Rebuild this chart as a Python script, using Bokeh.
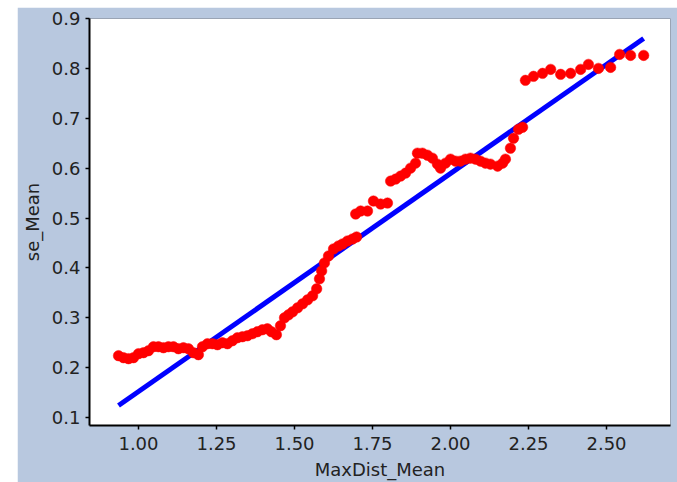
from bokeh.plotting import figure
from bokeh.models import FixedTicker, PrintfTickFormatter, Range1d
from bokeh.embed import file_html
from bokeh.resources import INLINE

# red observed points (MaxDist_Mean, se_Mean)
obs_x = [0.936, 0.952, 0.968, 0.984, 1.000, 1.016, 1.032, 1.048, 1.064, 1.080,
         1.096, 1.112, 1.128, 1.144, 1.160, 1.176, 1.192, 1.205, 1.221, 1.237,
         1.253, 1.269, 1.285, 1.301, 1.317, 1.333, 1.349, 1.365, 1.381, 1.397,
         1.413, 1.426, 1.442, 1.455, 1.468, 1.481, 1.494, 1.510, 1.526, 1.542,
         1.558, 1.571, 1.580, 1.587, 1.596, 1.609, 1.625, 1.641, 1.654, 1.670,
         1.686, 1.699, 1.696, 1.712, 1.734, 1.753, 1.776, 1.798, 1.808, 1.824,
         1.840, 1.856, 1.872, 1.888, 1.894, 1.910, 1.926, 1.942, 1.958, 1.968,
         1.984, 2.000, 2.016, 2.032, 2.048, 2.064, 2.080, 2.096, 2.112, 2.128,
         2.151, 2.167, 2.176, 2.192, 2.202, 2.218, 2.231, 2.240, 2.266, 2.295,
         2.321, 2.353, 2.385, 2.417, 2.442, 2.474, 2.513, 2.542, 2.577, 2.619]
obs_y = [0.224, 0.220, 0.218, 0.220, 0.228, 0.230, 0.234, 0.242, 0.242, 0.240,
         0.242, 0.242, 0.238, 0.240, 0.238, 0.230, 0.226, 0.242, 0.248, 0.248,
         0.246, 0.250, 0.248, 0.254, 0.260, 0.262, 0.264, 0.268, 0.272, 0.276,
         0.278, 0.272, 0.266, 0.284, 0.300, 0.306, 0.312, 0.320, 0.328, 0.336,
         0.344, 0.358, 0.378, 0.394, 0.410, 0.424, 0.438, 0.444, 0.448, 0.454,
         0.458, 0.462, 0.508, 0.514, 0.514, 0.534, 0.528, 0.530, 0.574, 0.578,
         0.584, 0.590, 0.600, 0.610, 0.630, 0.630, 0.626, 0.620, 0.608, 0.600,
         0.610, 0.618, 0.614, 0.614, 0.618, 0.620, 0.618, 0.614, 0.610, 0.608,
         0.604, 0.610, 0.618, 0.640, 0.660, 0.678, 0.682, 0.776, 0.784, 0.790,
         0.798, 0.788, 0.790, 0.798, 0.808, 0.800, 0.802, 0.828, 0.826, 0.826]

# blue fitted line
fit_x = [0.936, 2.619]
fit_y = [0.124, 0.860]

x_ticks = [1.00, 1.25, 1.50, 1.75, 2.00, 2.25, 2.50]
y_ticks = [0.1, 0.2, 0.3, 0.4, 0.5, 0.6, 0.7, 0.8, 0.9]

BG = "#b8c8df"
FONT = "DejaVu Sans"

p = figure(width=660, height=475, output_backend="svg", toolbar_location=None,
           x_range=Range1d(0.843, 2.705), y_range=Range1d(0.084, 0.9),
           min_border_left=72, min_border_right=7, min_border_top=11,
           min_border_bottom=57)
p.margin = (7, 0, 0, 17)
p.background_fill_color = "white"
p.border_fill_color = BG
p.outline_line_color = "#9aa4b4"
p.outline_line_width = 1
p.xgrid.visible = False
p.ygrid.visible = False

p.line(fit_x, fit_y, line_color="#0000ff", line_width=5)
p.scatter(obs_x, obs_y, size=10.5, fill_color="#ff0000", line_color="#ff0000",
          line_width=0.5)

for ax in (p.xaxis[0], p.yaxis[0]):
    ax.axis_line_color = "black"
    ax.axis_line_width = 2
    ax.major_tick_line_color = "black"
    ax.major_tick_line_width = 1.5
    ax.major_tick_out = 4
    ax.major_tick_in = 0
    ax.minor_tick_line_color = None
    ax.major_label_text_font = FONT
    ax.major_label_text_font_size = "18px"
    ax.major_label_text_color = "#222222"
    ax.axis_label_text_font = FONT
    ax.axis_label_text_font_size = "18px"
    ax.axis_label_text_font_style = "normal"
    ax.axis_label_text_color = "#222222"

p.xaxis.ticker = FixedTicker(ticks=x_ticks)
p.yaxis.ticker = FixedTicker(ticks=y_ticks)
p.xaxis.formatter = PrintfTickFormatter(format="%.2f")
p.yaxis.formatter = PrintfTickFormatter(format="%.1f")
p.xaxis.axis_label = "MaxDist_Mean"
p.yaxis.axis_label = "se_Mean"
p.xaxis.major_label_standoff = 7
p.yaxis.major_label_standoff = 5
p.xaxis.axis_label_standoff = 6
p.yaxis.axis_label_standoff = 6

open("out.html", "w").write(file_html(p, INLINE))
